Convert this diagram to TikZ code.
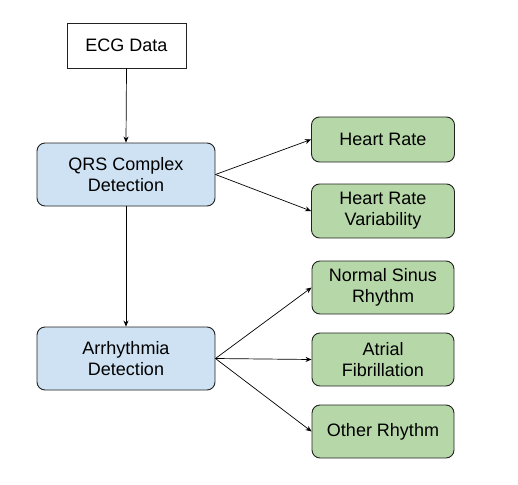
\documentclass[tikz,border=0pt]{standalone}
\usepackage{fontspec}
\setmainfont{Liberation Sans}
\usetikzlibrary{arrows.meta}
\definecolor{bluefill}{HTML}{CFE2F3}
\definecolor{greenfill}{HTML}{B6D7A8}
\definecolor{edge}{HTML}{222222}
\begin{document}
\begin{tikzpicture}[x=1pt,y=-1pt,
  box/.style={draw=edge, line width=0.9pt, align=center, font=\fontsize{18}{21}\selectfont, inner sep=0pt},
  plain/.style={box, fill=white},
  bluebox/.style={box, fill=bluefill, rounded corners=8pt},
  greenbox/.style={box, fill=greenfill, rounded corners=8pt},
  conn/.style={draw=black, line width=0.7pt, -{Stealth[length=6pt,width=5pt]}}
]
\useasboundingbox (0,0) rectangle (518,484);
\node[plain, minimum width=119pt, minimum height=45pt] (ecg) at (126.5,45.5) {ECG Data};
\node[bluebox, minimum width=178pt, minimum height=63pt] (qrs) at (126,174.5) {QRS Complex\\Detection};
\node[bluebox, minimum width=178pt, minimum height=63pt] (arr) at (126,358.5) {Arrhythmia\\Detection};
\node[greenbox, minimum width=143pt, minimum height=45pt] (hr) at (383,139.5) {Heart Rate};
\node[greenbox, minimum width=143pt, minimum height=54pt] (hrv) at (383,211) {Heart Rate\\Variability};
\node[greenbox, minimum width=142pt, minimum height=53pt] (nsr) at (383,287.5) {Normal Sinus\\Rhythm};
\node[greenbox, minimum width=142pt, minimum height=53pt] (af) at (383,359.5) {Atrial\\Fibrillation};
\node[greenbox, minimum width=142pt, minimum height=53pt] (oth) at (383,431.5) {Other Rhythm};
\draw[conn] (ecg.south) -- (qrs.north);
\draw[conn] (qrs.south) -- (arr.north);
\draw[conn] (qrs.east) -- (hr.west);
\draw[conn] (qrs.east) -- (hrv.west);
\draw[conn] (arr.east) -- (nsr.west);
\draw[conn] (arr.east) -- (af.west);
\draw[conn] (arr.east) -- (oth.west);
\end{tikzpicture}
\end{document}
